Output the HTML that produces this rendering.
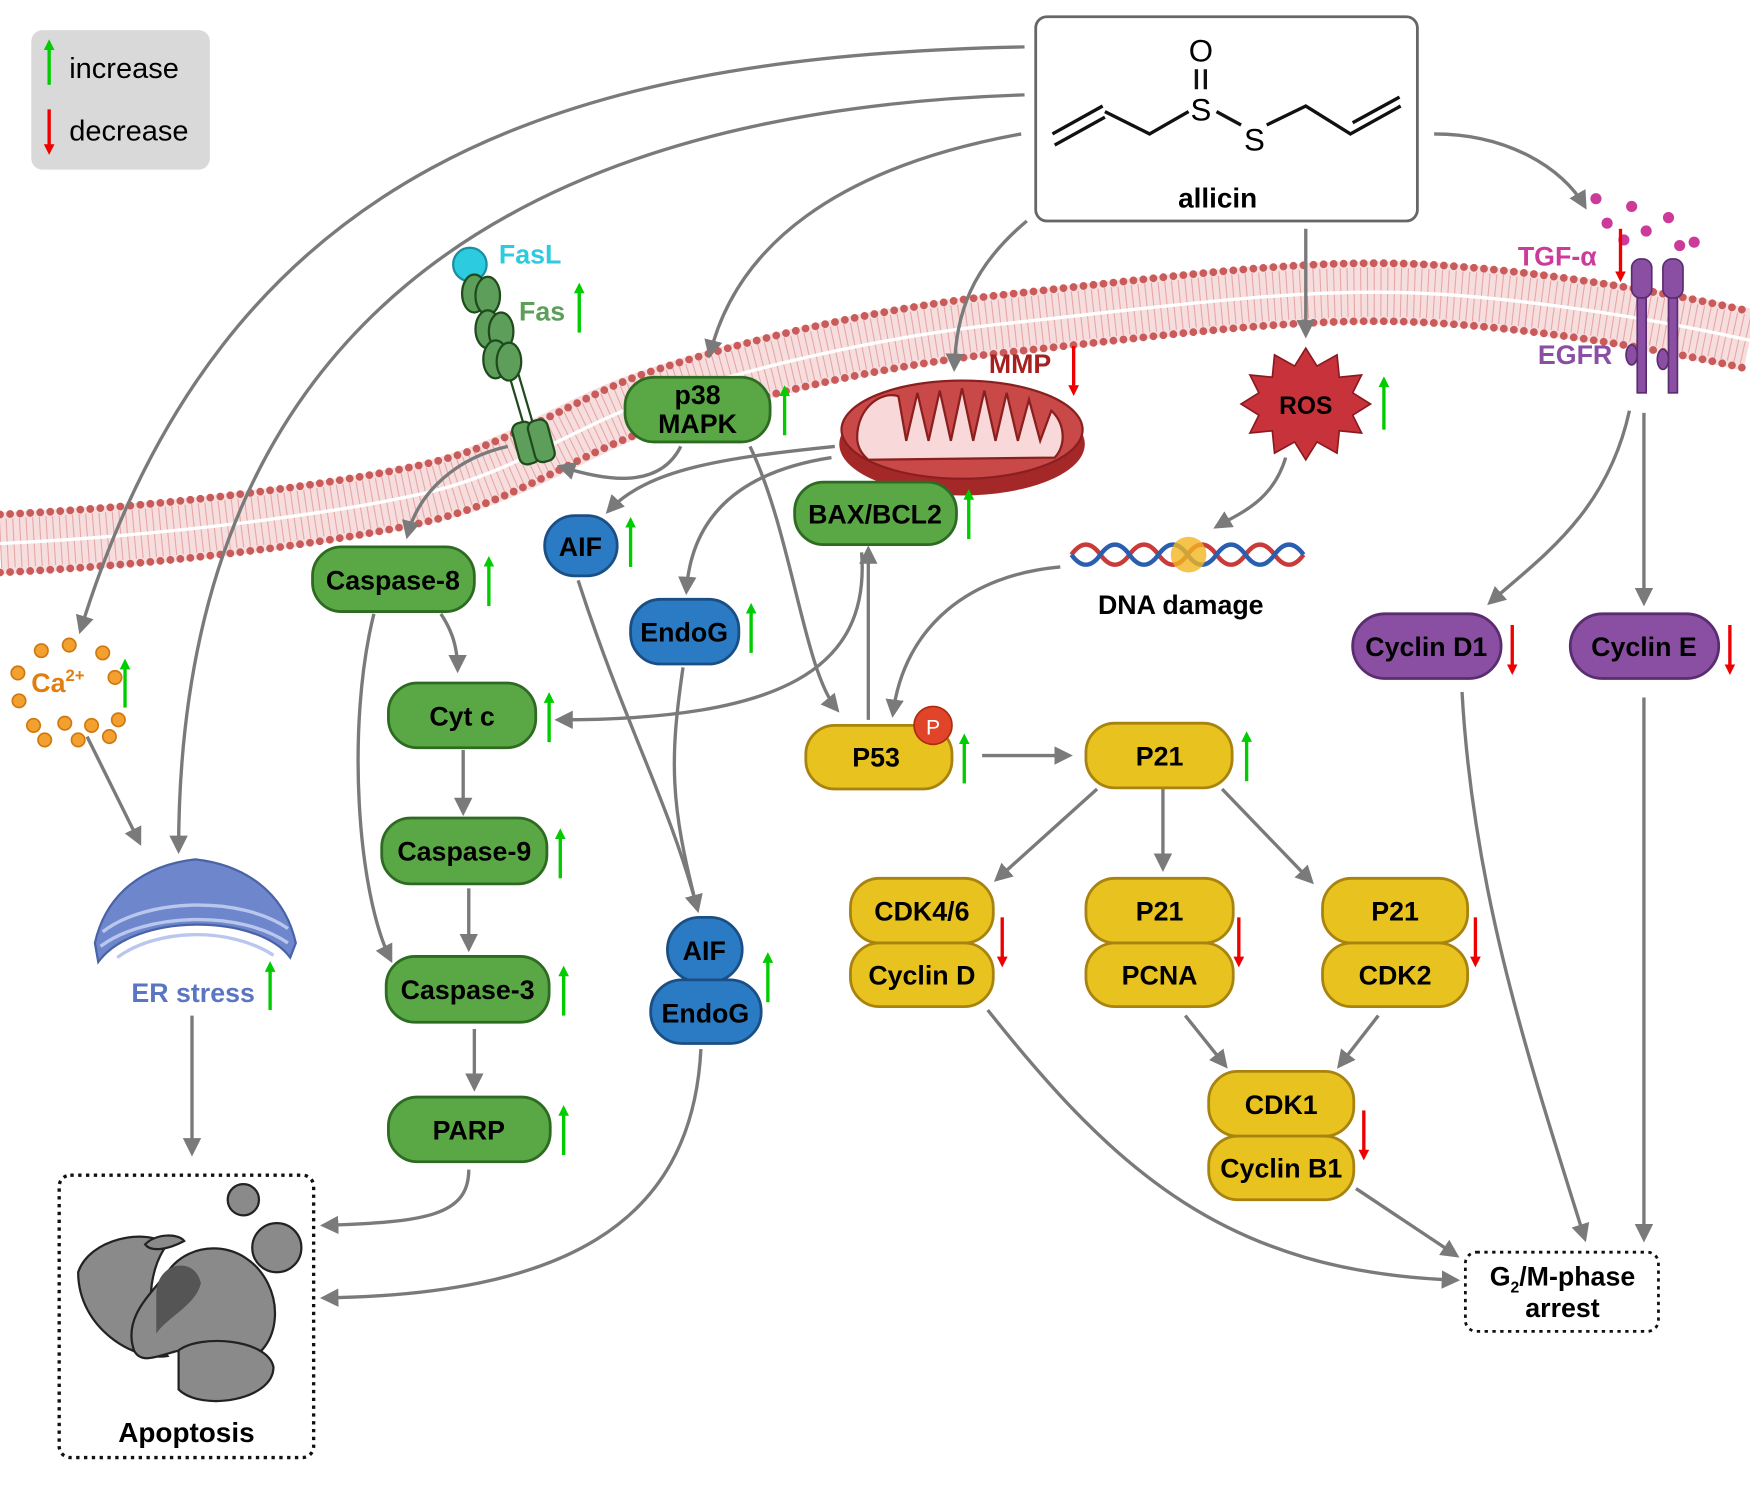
<!DOCTYPE html>
<html><head><meta charset="utf-8"><style>
html,body{margin:0;padding:0;background:#fff}
svg{display:block}
text{font-family:"Liberation Sans",sans-serif;font-weight:bold}
</style></head><body>
<svg width="1750" height="1491" viewBox="0 0 1568 1336" xmlns="http://www.w3.org/2000/svg">
<defs>
<marker id="ar" viewBox="0 0 10 10" refX="8" refY="5" markerWidth="5.5" markerHeight="5.5" orient="auto-start-reverse"><path d="M0,0L10,5L0,10z" fill="#7a7a7a"/></marker>
<marker id="ag" viewBox="0 0 10 10" refX="5" refY="5" markerWidth="3.2" markerHeight="3.2" orient="auto"><path d="M0,0L10,5L0,10z" fill="#0c0"/></marker>
<marker id="ad" viewBox="0 0 10 10" refX="5" refY="5" markerWidth="3.2" markerHeight="3.2" orient="auto"><path d="M0,0L10,5L0,10z" fill="#e00"/></marker>
</defs>
<rect width="1568" height="1336" fill="#fff"/>

<g fill="none">
<path d="M0,487 C150,480 300,460 380,442 S520,380 580,360 S760,305 900,290 S1150,260 1250,262 S1480,285 1568,305" stroke="#f7dede" stroke-width="56"/>
<path d="M0,487 C150,480 300,460 380,442 S520,380 580,360 S760,305 900,290 S1150,260 1250,262 S1480,285 1568,305" stroke="#e7a7a7" stroke-width="44" stroke-dasharray="1 5"/>
<path d="M0,487 C150,480 300,460 380,442 S520,380 580,360 S760,305 900,290 S1150,260 1250,262 S1480,285 1568,305" stroke="#fff" stroke-width="3"/>
<path transform="translate(0,-26)" d="M0,487 C150,480 300,460 380,442 S520,380 580,360 S760,305 900,290 S1150,260 1250,262 S1480,285 1568,305" stroke="#c95b5b" stroke-width="7" stroke-linecap="round" stroke-dasharray="0 9"/>
<path transform="translate(0,26)" d="M0,487 C150,480 300,460 380,442 S520,380 580,360 S760,305 900,290 S1150,260 1250,262 S1480,285 1568,305" stroke="#c95b5b" stroke-width="7" stroke-linecap="round" stroke-dasharray="0 9"/>
</g>

<rect x="28" y="27" width="160" height="125" rx="10" fill="#d9d9d9"/>
<line x1="44" y1="76" x2="44" y2="40" stroke="#0c0" stroke-width="3" marker-end="url(#ag)"/>
<text x="62" y="70" font-size="26" style="font-weight:normal">increase</text>
<line x1="44" y1="98" x2="44" y2="134" stroke="#e00" stroke-width="3" marker-end="url(#ad)"/>
<text x="62" y="126" font-size="26" style="font-weight:normal">decrease</text>

<rect x="928" y="15" width="342" height="183" rx="10" fill="#fff" stroke="#666" stroke-width="2.5"/>
<g stroke="#111" stroke-width="3" fill="none">
<path d="M945,130 L990,105 M943,120 L988,95"/>
<path d="M990,100 L1030,120 L1065,100"/>
<path d="M1072,62 L1072,80 M1080,62 L1080,80"/>
<path d="M1090,100 L1112,112"/>
<path d="M1135,112 L1170,95 L1210,120 L1255,95 M1212,110 L1254,87"/>
</g>
<text x="1076" y="55" font-size="28" text-anchor="middle" style="font-weight:normal">O</text>
<text x="1076" y="108" font-size="28" text-anchor="middle" style="font-weight:normal">S</text>
<text x="1124" y="135" font-size="28" text-anchor="middle" style="font-weight:normal">S</text>
<text x="1091" y="186" font-size="25" text-anchor="middle">allicin</text>

<g fill="none" stroke="#7a7a7a" stroke-width="3" marker-end="url(#ar)">
<path d="M918,42 C500,50 200,150 72,565"/>
<path d="M918,85 C450,100 160,300 160,762"/>
<path d="M915,120 C750,150 660,220 636,318"/>
<path d="M920,198 C870,240 857,280 855,330"/>
<path d="M1170,205 L1170,300"/>
<path d="M1285,120 C1350,120 1400,150 1420,185"/>
<path d="M610,400 C590,440 540,430 502,418"/>
<path d="M748,400 C650,410 580,420 545,458"/>
<path d="M745,410 C680,420 620,450 615,530"/>
<path d="M455,400 C410,410 375,440 365,480"/>
<path d="M395,550 C405,565 410,580 410,600"/>
<path d="M335,550 C310,650 320,800 350,860"/>
<path d="M772,495 C780,600 700,645 500,645"/>
<path d="M415,672 L415,728"/>
<path d="M420,796 L420,850"/>
<path d="M425,922 L425,975"/>
<path d="M420,1048 C420,1090 380,1095 290,1098"/>
<path d="M518,520 C560,650 600,720 625,815"/>
<path d="M612,598 C600,680 600,720 625,815" marker-end="none"/>
<path d="M628,940 C620,1100 500,1160 290,1163"/>
<path d="M172,910 L172,1033"/>
<path d="M78,660 L125,755"/>
<path d="M672,400 C710,480 720,600 750,636"/>
<path d="M778,645 L778,492"/>
<path d="M950,508 C870,515 810,560 800,640"/>
<path d="M1152,410 C1140,450 1110,460 1090,472"/>
<path d="M880,677 L958,677"/>
<path d="M983,707 L893,788"/>
<path d="M1042,707 L1042,778"/>
<path d="M1095,707 L1175,790"/>
<path d="M1062,910 L1098,955"/>
<path d="M1235,910 L1200,955"/>
<path d="M885,905 C1000,1050 1100,1140 1305,1147"/>
<path d="M1215,1065 L1305,1125"/>
<path d="M1310,620 C1320,800 1370,950 1420,1110"/>
<path d="M1473,625 L1473,1110"/>
<path d="M1460,368 C1440,460 1380,500 1335,540"/>
<path d="M1473,370 L1473,540"/>
</g>

<g stroke="#1f4a1c" stroke-width="2">
<line x1="450" y1="315" x2="472" y2="390"/><line x1="458" y1="313" x2="480" y2="388"/>
<circle cx="421" cy="237" r="15" fill="#2ccbe0" stroke="#1a8fa0"/>
<g fill="#5c9e5a">
<ellipse cx="425" cy="263" rx="11" ry="17"/><ellipse cx="437" cy="265" rx="11" ry="17"/>
<ellipse cx="437" cy="295" rx="11" ry="17"/><ellipse cx="449" cy="297" rx="11" ry="17"/>
<ellipse cx="444" cy="322" rx="11" ry="17"/><ellipse cx="456" cy="324" rx="11" ry="17"/>
<rect x="462" y="378" width="18" height="38" rx="7" transform="rotate(-15 471 397)"/>
<rect x="476" y="376" width="18" height="38" rx="7" transform="rotate(-15 485 395)"/>
</g></g>
<text x="447" y="236" font-size="24" fill="#2ccbe0">FasL</text>
<text x="465" y="287" font-size="24" fill="#5c9e5a">Fas</text>
<line x1="519" y1="298" x2="519" y2="258" stroke="#0c0" stroke-width="3" marker-end="url(#ag)"/>

<ellipse cx="862" cy="398" rx="110" ry="46" fill="#a52828"/>
<ellipse cx="862" cy="385" rx="108" ry="44" fill="#c94848" stroke="#8a1f1f" stroke-width="2"/>
<path d="M768,392 C768,365 790,350 805,355 L812,395 L822,352 L832,395 L842,350 L852,395 L862,348 L872,395 L882,350 L892,395 L902,352 L912,395 L922,358 L932,395 L942,368 C955,380 955,400 945,410 L778,412 C770,405 768,398 768,392Z" fill="#f8d8d8" stroke="#8a1f1f" stroke-width="2"/>
<text x="886" y="334" font-size="24" fill="#a52020">MMP</text>
<line x1="962" y1="310" x2="962" y2="350" stroke="#e00" stroke-width="3" marker-end="url(#ad)"/>

<polygon points="1170,312 1180,328 1198,318 1200,338 1220,336 1212,352 1228,362 1212,372 1220,388 1200,386 1198,406 1180,396 1170,412 1160,396 1142,406 1140,386 1120,388 1128,372 1112,362 1128,352 1120,336 1140,338 1142,318 1160,328" fill="#c8323a" stroke="#8a1a20" stroke-width="1.5"/>
<text x="1170" y="371" font-size="22" text-anchor="middle">ROS</text>
<line x1="1240" y1="385" x2="1240" y2="342" stroke="#0c0" stroke-width="3" marker-end="url(#ag)"/>

<g fill="none" stroke-width="4">
<path d="M960,497 q13,-18 26,0 t26,0 t26,0 t26,0 t26,0 t26,0 t26,0 t26,0" stroke="#c93a3a"/>
<path d="M960,497 q13,18 26,0 t26,0 t26,0 t26,0 t26,0 t26,0 t26,0 t26,0" stroke="#2a5fb0"/>
</g>
<circle cx="1065" cy="497" r="16" fill="#f2b520" opacity="0.8"/>
<text x="1058" y="550" font-size="24" text-anchor="middle">DNA damage</text>

<g fill="#cc3a9a">
<circle cx="1430" cy="178" r="5"/><circle cx="1440" cy="200" r="5"/><circle cx="1462" cy="185" r="5"/><circle cx="1475" cy="207" r="5"/>
<circle cx="1495" cy="195" r="5"/><circle cx="1505" cy="220" r="5"/><circle cx="1518" cy="217" r="5"/><circle cx="1455" cy="215" r="5"/><circle cx="1500" cy="245" r="5"/>
</g>
<g fill="#8a4fa3" stroke="#5a2d70" stroke-width="1.5">
<rect x="1462" y="232" width="18" height="35" rx="8"/><rect x="1490" y="232" width="18" height="35" rx="8"/>
<rect x="1467" y="267" width="8" height="85"/><rect x="1495" y="267" width="8" height="85"/>
<ellipse cx="1462" cy="318" rx="5" ry="9"/><ellipse cx="1490" cy="322" rx="5" ry="9"/>
</g>
<text x="1360" y="238" font-size="24" fill="#cc3a9a">TGF-α</text>
<line x1="1452" y1="205" x2="1452" y2="248" stroke="#e00" stroke-width="3" marker-end="url(#ad)"/>
<text x="1378" y="326" font-size="24" fill="#8a4fa3">EGFR</text>

<g fill="#f2a030" stroke="#d07810" stroke-width="1.5">
<circle cx="37" cy="583" r="6"/><circle cx="62" cy="578" r="6"/><circle cx="92" cy="585" r="6"/><circle cx="16" cy="603" r="6"/>
<circle cx="103" cy="607" r="6"/><circle cx="17" cy="628" r="6"/><circle cx="30" cy="650" r="6"/><circle cx="58" cy="648" r="6"/>
<circle cx="82" cy="650" r="6"/><circle cx="106" cy="645" r="6"/><circle cx="40" cy="663" r="6"/><circle cx="70" cy="663" r="6"/><circle cx="98" cy="660" r="6"/>
</g>
<text x="28" y="620" font-size="24" fill="#e07f10">Ca<tspan font-size="15" dy="-10">2+</tspan></text>
<line x1="112" y1="634" x2="112" y2="595" stroke="#0c0" stroke-width="3" marker-end="url(#ag)"/>

<path d="M85,845 C95,800 130,775 175,770 C220,775 255,800 265,845 L260,858 C230,818 120,818 88,862 Z" fill="#6e87cc" stroke="#4a63a8" stroke-width="2"/>
<g stroke="#b9c6ee" stroke-width="3" fill="none">
<path d="M92,835 C130,805 215,802 258,832"/><path d="M90,848 C130,818 215,815 258,845"/><path d="M105,858 C140,832 205,830 245,856"/>
</g>
<text x="173" y="898" font-size="24" fill="#5a76c2" text-anchor="middle">ER stress</text>
<line x1="242" y1="905" x2="242" y2="866" stroke="#0c0" stroke-width="3" marker-end="url(#ag)"/>

<rect x="53" y="1053" width="228" height="253" rx="10" fill="#fff" stroke="#111" stroke-width="3" stroke-dasharray="3 4"/>
<g fill="#8a8a8a" stroke="#222" stroke-width="2">
<path d="M70,1140 C80,1110 130,1100 150,1115 C130,1140 130,1190 150,1215 C120,1220 70,1190 70,1140Z"/>
<path d="M150,1140 C170,1110 220,1110 240,1150 C260,1190 230,1240 190,1210 C160,1200 130,1230 120,1210 C110,1180 135,1160 150,1140Z"/>
<circle cx="218" cy="1075" r="14"/><circle cx="248" cy="1118" r="22"/>
<path d="M160,1210 C180,1195 240,1200 245,1225 C245,1255 180,1265 160,1245Z"/>
<path d="M130,1115 C140,1105 160,1105 165,1112 C150,1120 135,1122 130,1115Z"/>
</g>
<path d="M140,1160 C140,1130 175,1125 180,1150 C175,1170 150,1180 140,1195Z" fill="#555"/>
<text x="167" y="1292" font-size="25" text-anchor="middle">Apoptosis</text>

<rect x="1313" y="1122" width="173" height="71" rx="10" fill="#fff" stroke="#111" stroke-width="2.5" stroke-dasharray="3 4"/>
<text x="1400" y="1152" font-size="24" text-anchor="middle">G<tspan font-size="14" dy="6">2</tspan><tspan dy="-6">/M-phase</tspan></text>
<text x="1400" y="1180" font-size="24" text-anchor="middle">arrest</text>

<g font-size="24" text-anchor="middle">
<g fill="#5aa845" stroke="#2e6b22" stroke-width="2.5">
<rect x="560" y="338" width="130" height="58" rx="26"/>
<rect x="712" y="432" width="145" height="56" rx="26"/>
<rect x="280" y="490" width="145" height="58" rx="26"/>
<rect x="348" y="612" width="132" height="58" rx="26"/>
<rect x="342" y="733" width="148" height="59" rx="26"/>
<rect x="346" y="857" width="146" height="59" rx="26"/>
<rect x="348" y="983" width="145" height="58" rx="26"/>
</g>
<text x="625" y="362">p38</text><text x="625" y="388">MAPK</text>
<text x="784" y="469">BAX/BCL2</text>
<text x="352" y="528">Caspase-8</text>
<text x="414" y="650">Cyt c</text>
<text x="416" y="771">Caspase-9</text>
<text x="419" y="895">Caspase-3</text>
<text x="420" y="1021">PARP</text>
<g fill="#2b7bc4" stroke="#1a4f85" stroke-width="2.5">
<rect x="488" y="462" width="65" height="54" rx="27"/>
<rect x="565" y="537" width="97" height="58" rx="27"/>
<rect x="598" y="822" width="67" height="58" rx="29"/>
<rect x="583" y="878" width="99" height="57" rx="28"/>
</g>
<text x="520" y="498">AIF</text><text x="613" y="575">EndoG</text>
<text x="631" y="860">AIF</text><text x="632" y="916">EndoG</text>
<g fill="#e8c21f" stroke="#a88310" stroke-width="2.5">
<rect x="722" y="650" width="131" height="57" rx="26"/>
<rect x="973" y="648" width="131" height="58" rx="26"/>
<rect x="762" y="787" width="128" height="58" rx="26"/><rect x="762" y="845" width="128" height="57" rx="26"/>
<rect x="973" y="787" width="132" height="58" rx="26"/><rect x="973" y="845" width="132" height="57" rx="26"/>
<rect x="1185" y="787" width="130" height="58" rx="26"/><rect x="1185" y="845" width="130" height="57" rx="26"/>
<rect x="1083" y="960" width="130" height="58" rx="26"/><rect x="1083" y="1018" width="130" height="57" rx="26"/>
</g>
<circle cx="836" cy="650" r="17" fill="#e0452a" stroke="#b02a10" stroke-width="1.5"/>
<text x="836" y="658" font-size="19" fill="#fff" style="font-weight:normal">P</text>
<text x="785" y="687">P53</text><text x="1039" y="686">P21</text>
<text x="826" y="825">CDK4/6</text><text x="826" y="882">Cyclin D</text>
<text x="1039" y="825">P21</text><text x="1039" y="882">PCNA</text>
<text x="1250" y="825">P21</text><text x="1250" y="882">CDK2</text>
<text x="1148" y="998">CDK1</text><text x="1148" y="1055">Cyclin B1</text>
<g fill="#8a4fa3" stroke="#5a2d70" stroke-width="2.5">
<rect x="1212" y="550" width="133" height="58" rx="29"/>
<rect x="1407" y="550" width="133" height="58" rx="29"/>
</g>
<text x="1278" y="588">Cyclin D1</text><text x="1473" y="588">Cyclin E</text>
</g>

<g stroke-width="3">
<line x1="703" y1="390" x2="703" y2="350" stroke="#0c0" marker-end="url(#ag)"/>
<line x1="868" y1="483" x2="868" y2="443" stroke="#0c0" marker-end="url(#ag)"/>
<line x1="565" y1="508" x2="565" y2="468" stroke="#0c0" marker-end="url(#ag)"/>
<line x1="438" y1="543" x2="438" y2="503" stroke="#0c0" marker-end="url(#ag)"/>
<line x1="673" y1="585" x2="673" y2="545" stroke="#0c0" marker-end="url(#ag)"/>
<line x1="492" y1="665" x2="492" y2="625" stroke="#0c0" marker-end="url(#ag)"/>
<line x1="502" y1="787" x2="502" y2="747" stroke="#0c0" marker-end="url(#ag)"/>
<line x1="505" y1="910" x2="505" y2="870" stroke="#0c0" marker-end="url(#ag)"/>
<line x1="505" y1="1035" x2="505" y2="995" stroke="#0c0" marker-end="url(#ag)"/>
<line x1="688" y1="898" x2="688" y2="858" stroke="#0c0" marker-end="url(#ag)"/>
<line x1="864" y1="702" x2="864" y2="662" stroke="#0c0" marker-end="url(#ag)"/>
<line x1="1117" y1="700" x2="1117" y2="660" stroke="#0c0" marker-end="url(#ag)"/>
<line x1="898" y1="822" x2="898" y2="862" stroke="#e00" marker-end="url(#ad)"/>
<line x1="1110" y1="822" x2="1110" y2="862" stroke="#e00" marker-end="url(#ad)"/>
<line x1="1322" y1="822" x2="1322" y2="862" stroke="#e00" marker-end="url(#ad)"/>
<line x1="1222" y1="995" x2="1222" y2="1035" stroke="#e00" marker-end="url(#ad)"/>
<line x1="1355" y1="560" x2="1355" y2="600" stroke="#e00" marker-end="url(#ad)"/>
<line x1="1550" y1="560" x2="1550" y2="600" stroke="#e00" marker-end="url(#ad)"/>
</g>
</svg>
</body></html>
